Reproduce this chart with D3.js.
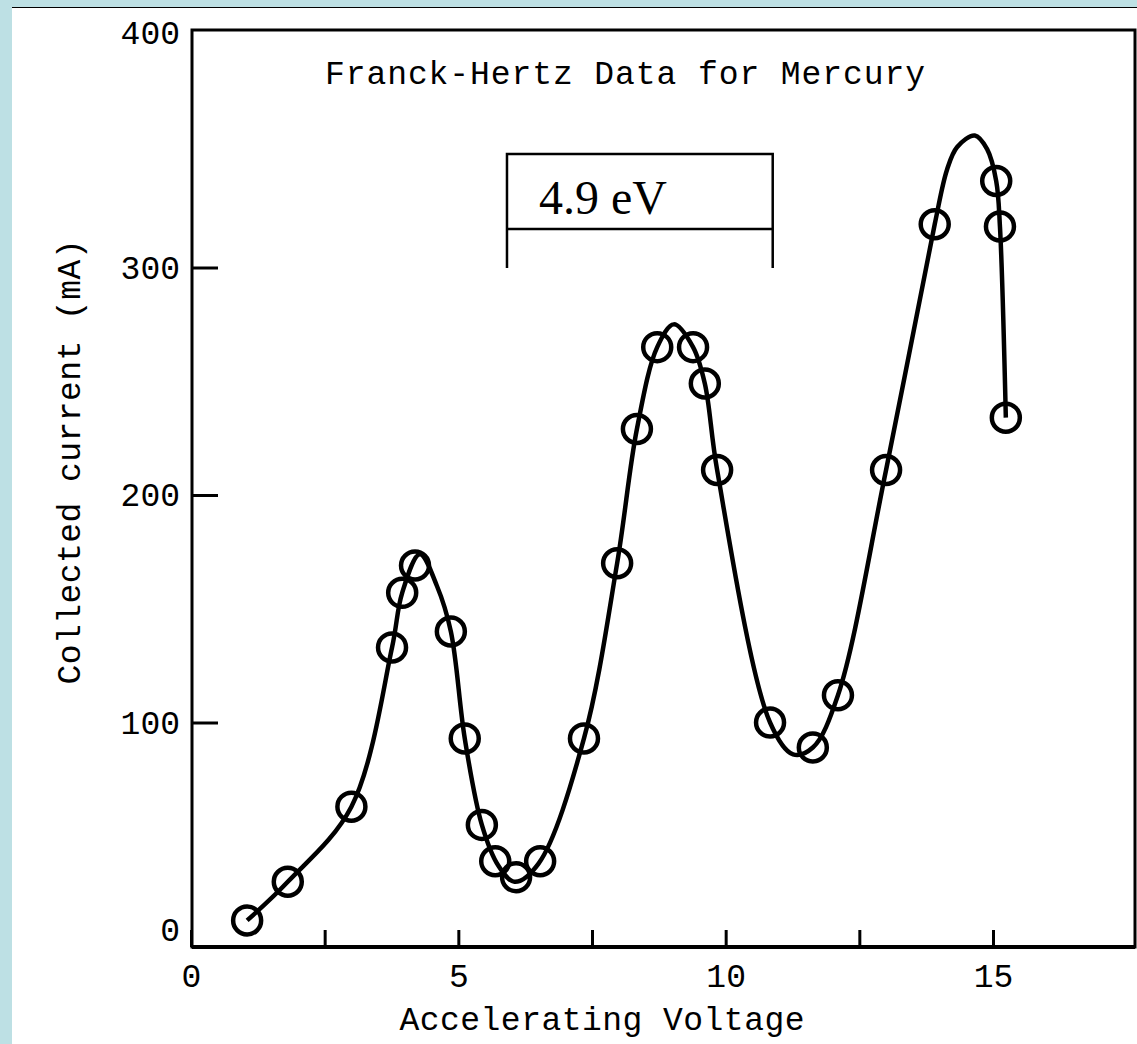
<!DOCTYPE html>
<html>
<head>
<meta charset="UTF-8">
<script src="https://cdn.jsdelivr.net/npm/d3@7"></script>
<style>
body { margin: 0; background: #bde0e4; }
svg { display: block; }
.lbl { font-family: "Liberation Mono", "DejaVu Sans Mono", monospace; font-size: 33px; fill: #000; }
</style>
</head>
<body>
<svg id="chart" width="1137" height="1044"></svg>
<script>
// measured data points (Accelerating Voltage, Collected current mA)
const voltage = [1.05, 1.81, 3.0, 3.76, 3.95, 4.19, 4.86, 5.12, 5.44, 5.69, 6.08, 6.53, 7.35, 7.97, 8.34, 8.72, 9.39, 9.61, 9.84, 10.83, 11.63, 12.10, 13.0, 13.91, 15.06, 15.13, 15.24];
const current = [13, 30, 63, 133, 157, 169, 140, 93, 55, 39, 32, 39, 93, 170, 229, 265, 265, 249, 211, 100, 89, 112, 211, 319, 338, 318, 234];

// hand-drawn smooth curve through the data
const fitVoltage = [1.05, 1.81, 3.0, 3.76, 3.95, 4.28, 4.6, 4.86, 5.12, 5.44, 5.75, 6.05, 6.5, 7.35, 7.97, 8.34, 8.72, 9.03, 9.39, 9.61, 9.84, 10.83, 11.26, 11.63, 12.10, 13.0, 13.91, 14.14, 14.33, 14.66, 14.89, 15.06, 15.13, 15.24];
const fitCurrent = [13, 30, 63, 133, 157, 174, 160, 140, 93, 55, 37, 30, 38, 93, 170, 229, 265, 275, 265, 249, 211, 100, 86, 89, 112, 211, 319, 343, 353, 358, 352, 338, 318, 234];

const xTicks = [0, 2.5, 5, 7.5, 10, 12.5, 15];
const xLabelTicks = [0, 5, 10, 15];
const yTicks = [0, 100, 200, 300, 400];

const bracketFrom = 5.91;   // 4.9 eV marker
const bracketTo = 10.88;
const bracketText = "4.9 eV";

const title = "Franck-Hertz Data for Mercury";
const xTitle = "Accelerating Voltage";
const yTitle = "Collected current (mA)";

const svg = d3.select("#chart");

// page background: blue strip left/top, white sheet
svg.append("rect").attr("x", 12).attr("y", 8).attr("width", 1125).attr("height", 1036).attr("fill", "#fff");
svg.append("line").attr("x1", 12).attr("x2", 1137).attr("y1", 7.5).attr("y2", 7.5).attr("stroke", "#000").attr("stroke-width", 1);

const x = d3.scaleLinear().domain([0, 15]).range([191, 993]);
const y = d3.scaleLinear().domain([0, 400]).range([950, 40]);

const frameL = 192, frameR = 1135, frameT = 30, frameB = 947;

// frame
svg.append("rect")
    .attr("x", frameL).attr("y", frameT)
    .attr("width", frameR - frameL).attr("height", frameB - frameT)
    .attr("fill", "none").attr("stroke", "#000").attr("stroke-width", 3);
svg.append("line").attr("x1", frameL).attr("x2", frameR).attr("y1", frameB).attr("y2", frameB)
    .attr("stroke", "#000").attr("stroke-width", 4);

// x axis ticks (inward)
const gx = svg.append("g")
    .attr("transform", "translate(0," + frameB + ")")
    .call(d3.axisBottom(x).tickValues(xTicks).tickSizeInner(-17).tickSizeOuter(0).tickPadding(17)
        .tickFormat(d => xLabelTicks.includes(d) ? d : ""));
gx.select(".domain").remove();
gx.selectAll(".tick line").attr("stroke", "#000").attr("stroke-width", 3);
gx.selectAll(".tick text").attr("class", "lbl");
gx.attr("font-family", null).attr("font-size", null);

// y axis ticks (inward)
const gy = svg.append("g")
    .attr("transform", "translate(" + frameL + ",0)")
    .call(d3.axisLeft(y).tickValues(yTicks).tickSizeInner(-26).tickSizeOuter(0).tickPadding(12));
gy.select(".domain").remove();
gy.selectAll(".tick line").attr("stroke", "#000").attr("stroke-width", 3)
    .filter(d => d === 0 || d === 400).remove();
gy.selectAll(".tick text").attr("class", "lbl")
    .attr("y", d => d === 0 ? -20 : (d === 400 ? -7 : 0));
gy.attr("font-family", null).attr("font-size", null);

// titles
svg.append("text").attr("class", "lbl").attr("x", 625).attr("y", 84)
    .attr("text-anchor", "middle").attr("textLength", 600).attr("lengthAdjust", "spacing").text(title);
svg.append("text").attr("class", "lbl").attr("x", 602).attr("y", 1030)
    .attr("text-anchor", "middle").attr("textLength", 405).attr("lengthAdjust", "spacing").text(xTitle);
svg.append("text").attr("class", "lbl")
    .attr("transform", "translate(80,462) rotate(-90)")
    .attr("text-anchor", "middle").attr("textLength", 445).attr("lengthAdjust", "spacing").text(yTitle);

// 4.9 eV bracket
const bx0 = x(bracketFrom), bx1 = x(bracketTo);
const br = svg.append("g").attr("stroke", "#000").attr("stroke-width", 2.5).attr("fill", "none");
br.append("path").attr("d", `M${bx0},268 L${bx0},154 L${bx1},154 L${bx1},268`);
br.append("line").attr("x1", bx0).attr("x2", bx1).attr("y1", 229).attr("y2", 229);
svg.append("text").attr("x", bx0 + 32).attr("y", 214)
    .attr("font-family", "'Liberation Serif', 'Times New Roman', serif").attr("font-size", 48)
    .text(bracketText);

// smooth curve
const line = d3.line()
    .x((d, i) => x(fitVoltage[i]))
    .y(d => y(d))
    .curve(d3.curveCatmullRom.alpha(0.5));
svg.append("path").datum(fitCurrent)
    .attr("d", line)
    .attr("fill", "none").attr("stroke", "#000").attr("stroke-width", 4.5);

// data markers
svg.selectAll(".pt").data(current).enter().append("circle")
    .attr("class", "pt")
    .attr("cx", (d, i) => x(voltage[i]))
    .attr("cy", d => y(d))
    .attr("r", 14)
    .attr("fill", "none").attr("stroke", "#000").attr("stroke-width", 4.5);
</script>
</body>
</html>
